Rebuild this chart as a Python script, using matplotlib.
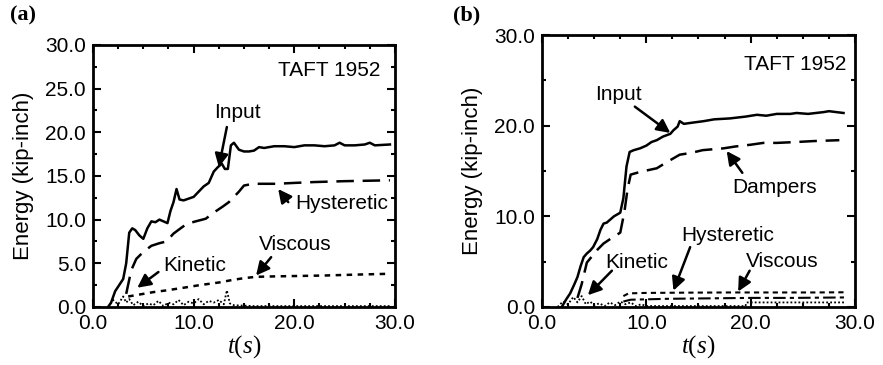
import matplotlib
matplotlib.use("Agg")
import matplotlib.pyplot as plt
from matplotlib.ticker import MultipleLocator, FormatStrFormatter

plt.rcParams['font.family'] = ['Liberation Sans', 'DejaVu Sans']
plt.rcParams['mathtext.fontset'] = 'custom'
plt.rcParams['mathtext.it'] = 'Liberation Serif:italic'
plt.rcParams['mathtext.rm'] = 'Liberation Serif'

# ---- panel (a): conventional frame ----
a_input_t = [1.5, 1.8, 2.2, 2.6, 3.0, 3.3, 3.6, 3.9, 4.2, 4.6, 5.0, 5.4, 5.8, 6.2, 6.6, 7.0, 7.4, 7.7,
             8.0, 8.3, 8.6, 9.0, 9.5, 10.0, 10.5, 11.0, 11.5, 12.0, 12.4, 12.8, 13.1, 13.4, 13.7, 14.0,
             14.5, 15.0, 15.5, 16.0, 16.5, 17.0, 18.0, 19.0, 20.0, 21.0, 22.0, 23.0, 24.0, 24.5, 25.0,
             26.0, 27.0, 27.5, 28.0, 29.5]
a_input_e = [0.0, 0.5, 1.8, 2.5, 3.2, 5.0, 8.5, 9.0, 8.8, 8.2, 7.8, 9.0, 9.8, 9.7, 10.0, 9.8, 9.6, 11.0,
             12.0, 13.5, 12.3, 12.2, 12.4, 12.6, 13.2, 13.8, 14.2, 15.5, 16.0, 16.4, 15.8, 15.8, 18.5, 18.8,
             18.0, 17.8, 17.8, 17.9, 18.3, 18.2, 18.4, 18.4, 18.3, 18.5, 18.5, 18.4, 18.5, 18.8, 18.5,
             18.5, 18.6, 18.8, 18.5, 18.6]
a_hyst_t = [3.3, 3.8, 4.3, 5.0, 5.8, 6.6, 7.3, 8.0, 8.7, 9.3, 10.2, 11.2, 12.0, 12.9, 13.5, 14.0, 14.5,
            15.0, 15.9, 17.0, 18.2, 20.0, 22.0, 25.0, 29.5]
a_hyst_e = [1.5, 4.2, 5.5, 6.3, 7.0, 7.3, 7.5, 8.4, 9.0, 9.5, 9.8, 10.1, 10.8, 11.5, 12.0, 12.6, 13.2,
            13.9, 14.1, 14.1, 14.1, 14.2, 14.3, 14.4, 14.5]
a_visc_t = [3.5, 4.5, 6.0, 7.3, 9.0, 10.6, 12.5, 13.9, 15.0, 16.2, 18.0, 20.5, 23.0, 26.0, 29.5]
a_visc_e = [1.2, 1.4, 1.7, 1.9, 2.2, 2.5, 2.8, 3.1, 3.3, 3.45, 3.5, 3.55, 3.6, 3.7, 3.8]
a_kin_t = [1.5, 2.0, 2.5, 3.0, 3.3, 3.6, 4.0, 4.5, 5.0, 5.5, 6.0, 6.5, 7.0, 7.5, 8.0, 8.5, 9.0, 9.5,
           10.0, 10.5, 11.0, 11.5, 12.0, 12.5, 13.0, 13.3, 13.6, 14.0, 16.0, 20.0, 25.0, 29.5]
a_kin_e = [0.0, 0.8, 0.3, 1.2, 0.5, 0.9, 0.2, 0.6, 0.1, 0.4, 0.2, 0.7, 0.1, 0.5, 0.3, 0.8, 0.2, 0.6,
           0.4, 0.9, 0.3, 0.7, 0.5, 0.8, 0.3, 1.9, 0.4, 0.2, 0.1, 0.1, 0.1, 0.1]

# ---- panel (b): frame with dampers ----
b_input_t = [1.9, 2.3, 2.7, 3.1, 3.4, 3.7, 4.0, 4.3, 4.6, 4.9, 5.3, 5.6, 5.9, 6.2, 6.5, 6.9, 7.2, 7.5,
             7.8, 8.1, 8.4, 8.8, 9.4, 10.0, 10.5, 11.0, 11.6, 12.3, 12.6, 13.0, 13.2, 13.6, 14.2, 15.5,
             16.5, 18.0, 19.5, 20.6, 21.5, 22.5, 23.8, 24.4, 25.5, 27.0, 27.5, 28.9]
b_input_e = [0.0, 0.8, 1.5, 2.5, 3.3, 4.5, 5.5, 5.9, 6.2, 6.6, 7.5, 8.5, 9.2, 9.3, 9.6, 10.0, 10.2, 10.4,
             12.0, 15.5, 17.1, 17.3, 17.5, 17.8, 18.2, 18.4, 18.8, 19.1, 19.5, 19.9, 20.5, 20.2, 20.3,
             20.5, 20.7, 20.8, 21.0, 21.2, 21.1, 21.3, 21.3, 21.4, 21.3, 21.5, 21.6, 21.4]
b_damp_t = [3.4, 3.8, 4.3, 4.8, 5.3, 5.9, 6.8, 7.5, 7.9, 8.2, 8.5, 9.4, 10.2, 11.0, 12.0, 13.2, 14.3,
            15.4, 17.4, 18.5, 20.0, 21.2, 22.5, 24.4, 26.0, 28.5]
b_damp_e = [1.0, 2.5, 4.9, 5.6, 6.3, 7.0, 7.7, 8.2, 10.5, 13.0, 14.6, 14.9, 15.1, 15.3, 16.0, 16.8,
            17.0, 17.3, 17.5, 17.7, 17.9, 18.1, 18.1, 18.2, 18.3, 18.4]
b_hyst_t = [7.8, 8.3, 10.0, 14.0, 18.0, 22.0, 26.0, 29.0]
b_hyst_e = [1.2, 1.5, 1.55, 1.58, 1.6, 1.6, 1.6, 1.62]
b_visc_t = [7.8, 8.5, 12.0, 16.0, 20.0, 24.0, 29.0]
b_visc_e = [0.6, 0.8, 0.9, 0.95, 1.0, 1.0, 1.05]
b_kin_t = [1.5, 2.0, 2.5, 3.0, 3.4, 3.8, 4.2, 4.6, 5.0, 5.5, 6.0, 6.5, 7.0, 7.5, 8.0, 8.5, 9.0, 9.5,
           10.0, 12.0, 16.0, 19.5, 19.6, 24.0, 29.0]
b_kin_e = [0.0, 0.6, 0.3, 1.1, 0.5, 1.2, 0.3, 0.6, 0.2, 0.4, 0.1, 0.5, 0.2, 0.6, 0.3, 0.5, 0.1, 0.3,
           0.1, 0.1, 0.1, 0.1, 0.5, 0.5, 0.5]

fig = plt.figure(figsize=(8.83, 3.65), dpi=100)
ax_a = fig.add_axes([0.1053, 0.159, 0.342, 0.718])
ax_b = fig.add_axes([0.6138, 0.159, 0.3545, 0.745])

lw = 1.8
ax_a.plot(a_input_t, a_input_e, color="black", lw=lw)
ax_a.plot(a_hyst_t, a_hyst_e, color="black", lw=lw, dashes=(7, 3.5))
ax_a.plot(a_visc_t, a_visc_e, color="black", lw=lw, dashes=(2.2, 2.2))
ax_a.plot(a_kin_t, a_kin_e, color="black", lw=1.3, dashes=(1, 1.2))

ax_b.plot(b_input_t, b_input_e, color="black", lw=lw)
ax_b.plot(b_damp_t, b_damp_e, color="black", lw=lw, dashes=(7, 3.5))
ax_b.plot(b_hyst_t, b_hyst_e, color="black", lw=1.5, dashes=(2.5, 2))
ax_b.plot(b_visc_t, b_visc_e, color="black", lw=1.5, dashes=(6, 2, 2, 2))
ax_b.plot(b_kin_t, b_kin_e, color="black", lw=1.3, dashes=(1, 1.2))

for ax, ymajor, yminor in [(ax_a, 5, 2.5), (ax_b, 10, 5)]:
    ax.set_xlim(0, 30)
    ax.set_ylim(0, 30)
    ax.xaxis.set_major_locator(MultipleLocator(10))
    ax.xaxis.set_minor_locator(MultipleLocator(2.5))
    ax.yaxis.set_major_locator(MultipleLocator(ymajor))
    ax.yaxis.set_minor_locator(MultipleLocator(yminor))
    ax.xaxis.set_major_formatter(FormatStrFormatter("%.1f"))
    ax.yaxis.set_major_formatter(FormatStrFormatter("%.1f"))
    ax.tick_params(which="both", direction="in", top=True, right=True, width=1.5)
    ax.tick_params(which="major", length=6, labelsize=15, pad=5)
    ax.tick_params(which="minor", length=3)
    for s in ax.spines.values():
        s.set_linewidth(2)
    ax.set_ylabel("Energy (kip-inch)", fontsize=16, labelpad=8)
    ax.set_xlabel("$t(s)$", fontsize=18, labelpad=0)

arrow = dict(arrowstyle="-|>", color="black", lw=1.8, mutation_scale=20, shrinkA=0, shrinkB=0)
fs = 15

ax_a.text(23.5, 27.1, "TAFT 1952", ha="center", va="center", fontsize=fs)
ax_a.text(14.4, 22.3, "Input", ha="center", va="center", fontsize=fs)
ax_a.annotate("", xy=(12.5, 16.0), xytext=(13.3, 20.6), arrowprops=arrow)
ax_a.text(24.7, 11.9, "Hysteretic", ha="center", va="center", fontsize=fs)
ax_a.annotate("", xy=(18.4, 13.5), xytext=(19.4, 12.0), arrowprops=arrow)
ax_a.text(20.1, 7.1, "Viscous", ha="center", va="center", fontsize=fs)
ax_a.annotate("", xy=(16.2, 3.6), xytext=(17.7, 5.7), arrowprops=arrow)
ax_a.text(10.1, 4.8, "Kinetic", ha="center", va="center", fontsize=fs)
ax_a.annotate("", xy=(4.4, 2.2), xytext=(6.5, 4.0), arrowprops=arrow)

ax_b.text(24.3, 26.7, "TAFT 1952", ha="center", va="center", fontsize=fs)
ax_b.text(7.3, 23.4, "Input", ha="center", va="center", fontsize=fs)
ax_b.annotate("", xy=(12.3, 19.2), xytext=(8.9, 22.1), arrowprops=arrow)
ax_b.text(22.3, 13.2, "Dampers", ha="center", va="center", fontsize=fs)
ax_b.annotate("", xy=(17.7, 17.2), xytext=(19.2, 14.8), arrowprops=arrow)
ax_b.text(17.8, 7.9, "Hysteretic", ha="center", va="center", fontsize=fs)
ax_b.annotate("", xy=(12.6, 1.8), xytext=(14.2, 6.6), arrowprops=arrow)
ax_b.text(23.0, 5.0, "Viscous", ha="center", va="center", fontsize=fs)
ax_b.annotate("", xy=(18.8, 1.7), xytext=(19.9, 4.0), arrowprops=arrow)
ax_b.text(9.1, 4.9, "Kinetic", ha="center", va="center", fontsize=fs)
ax_b.annotate("", xy=(4.4, 1.3), xytext=(6.7, 4.0), arrowprops=arrow)

fig.text(23 / 883, 1 - 15 / 365, "(a)", ha="center", va="center", fontsize=16,
         fontweight="bold", family="Liberation Serif")
fig.text(467 / 883, 1 - 15 / 365, "(b)", ha="center", va="center", fontsize=16,
         fontweight="bold", family="Liberation Serif")

fig.savefig("out.png", dpi=100)
